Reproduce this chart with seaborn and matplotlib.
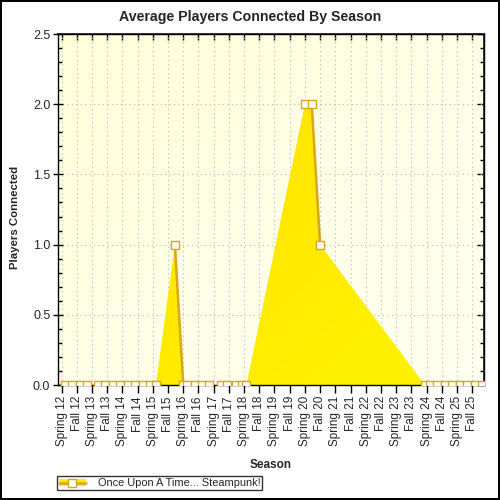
import numpy as np
import pandas as pd
import matplotlib
matplotlib.use("Agg")
import matplotlib.pyplot as plt
import seaborn as sns
from matplotlib.lines import Line2D
from matplotlib.patches import Patch
from matplotlib.colors import LinearSegmentedColormap
from matplotlib.ticker import MultipleLocator, FormatStrFormatter

# ---- data -------------------------------------------------------------
seasons = ["Spring 12", "Fall 12", "Spring 13", "Fall 13", "Spring 14", "Fall 14",
           "Spring 15", "Fall 15", "Spring 16", "Fall 16", "Spring 17", "Fall 17",
           "Spring 18", "Fall 18", "Spring 19", "Fall 19", "Spring 20", "Fall 20",
           "Spring 21", "Fall 21", "Spring 22", "Fall 22", "Spring 23", "Fall 23",
           "Spring 24", "Fall 24", "Spring 25", "Fall 25"]

# position of each observation on the season axis (Spring 12 = 0, Fall 12 = 1, ...)
point_pos = [0.22, 0.66, 1.20, 1.64, 2.41, 2.85, 3.40, 3.84, 4.39, 4.83, 5.38, 5.82, 6.20,
             7.45, 8.00, 8.26, 8.77, 9.25, 9.69, 10.46, 10.89, 11.45, 11.88, 12.15,
             16.00, 16.45, 17.00, 23.90,
             24.22, 24.66, 25.22, 25.66, 26.22, 26.66, 27.22, 27.66]
players = [0, 0, 0, 0, 0, 0, 0, 0, 0, 0, 0, 0, 0,
           1.0, 0, 0, 0, 0, 0, 0, 0, 0, 0, 0,
           2.0, 2.0, 1.0, 0,
           0, 0, 0, 0, 0, 0, 0, 0]
series_name = "Once Upon A Time... Steampunk!"
title = "Average Players Connected By Season"

# ---- style ------------------------------------------------------------
sns.set_theme(style="white")
plt.rcParams["font.family"] = ["Liberation Sans", "DejaVu Sans"]

YELLOW = "#FFEB00"
GOLD = "#DAA520"

df = pd.DataFrame({"pos": point_pos, "players": players})
df["seg"] = (df["pos"].diff() > 0.7).cumsum()

fig = plt.figure(figsize=(5, 5), dpi=100)
ax = fig.add_axes([0.116, 0.23, 0.852, 0.702])
ax.set_facecolor("#FFFFE8")

# diagonal gradients (plot background and area fill)
gx, gy = np.meshgrid(np.linspace(0, 1, 200), np.linspace(0, 1, 200))
grad = (gx + gy) / 2.0
bg_cmap = LinearSegmentedColormap.from_list("bg", ["#FFFFDA", "#FFFFF2"])
ax.imshow(grad, cmap=bg_cmap, extent=[0, 1, 0, 1], transform=ax.transAxes,
          aspect="auto", zorder=0, origin="upper", interpolation="bilinear")

poly = ax.fill_between(df["pos"], df["players"], 0, color="none", lw=0, zorder=1)
fill_cmap = LinearSegmentedColormap.from_list("fill", ["#FFDD00", "#FFF400"])
img = ax.imshow(grad, cmap=fill_cmap, extent=[0, 1, 0, 1], transform=ax.transAxes,
                aspect="auto", zorder=1, origin="upper", interpolation="bilinear")
path = poly.get_paths()[0]
img.set_clip_path(path, transform=ax.transData)

sns.lineplot(data=df, x="pos", y="players", units="seg", estimator=None,
             color=GOLD, lw=1.8, marker="s", markersize=5.5,
             markerfacecolor="white", markeredgecolor=GOLD, markeredgewidth=1,
             ax=ax, legend=False, zorder=3)

ax.set_xlim(-0.24, 27.78)
ax.set_ylim(0, 2.5)
ax.set_xticks(range(len(seasons)))
ax.set_xticklabels(seasons, rotation=90, fontsize=8.5)
ax.yaxis.set_major_locator(MultipleLocator(0.5))
ax.yaxis.set_minor_locator(MultipleLocator(0.1))
ax.yaxis.set_major_formatter(FormatStrFormatter("%.1f"))
for lab in ax.get_yticklabels():
    lab.set_fontsize(9)
ax.set_xlabel("")
ax.set_ylabel("")

ax.tick_params(axis="x", which="major", direction="out", length=6, width=1,
               color="black", pad=2, bottom=True)
ax.tick_params(axis="y", which="major", direction="inout", length=7, width=1,
               color="black", pad=2, left=True)
ax.tick_params(axis="y", which="minor", direction="in", length=3, width=1,
               color="black", left=True)

sec_x = ax.secondary_xaxis("top")
sec_x.set_xticks(range(len(seasons)))
sec_x.tick_params(direction="in", length=4, width=1, color="black", labeltop=False)
sec_y = ax.secondary_yaxis("right")
sec_y.yaxis.set_major_locator(MultipleLocator(0.5))
sec_y.yaxis.set_minor_locator(MultipleLocator(0.1))
sec_y.tick_params(which="major", direction="in", length=5, width=1, color="black", labelright=False)
sec_y.tick_params(which="minor", direction="in", length=3, width=1, color="black")
for s in list(ax.spines.values()):
    s.set_color("black")
    s.set_linewidth(1)

ax.grid(True, which="major", linestyle=(0, (1, 3)), color="#B8B8B8", lw=0.8)
ax.set_axisbelow(True)

fig.text(0.5, 1 - 17 / 500, title, ha="center", va="center", fontsize=10.2, fontweight="bold")
fig.text(15 / 500, 1 - 217 / 500, "Players Connected", rotation=90, ha="center",
         va="center", fontsize=8.2, fontweight="bold")
fig.text(271 / 500, 1 - 465 / 500, "Season", ha="center", va="center",
         fontsize=8.5, fontweight="bold")

handle = (Patch(facecolor=YELLOW, edgecolor="none"),
          Line2D([], [], color=GOLD, lw=1.8, marker="s", markersize=5.5,
                 markerfacecolor="white", markeredgecolor=GOLD))
leg = fig.legend([handle], [series_name], loc="upper left",
                 bbox_to_anchor=(57 / 500, 1 - 476 / 500), fontsize=7.9,
                 frameon=True, fancybox=False, borderpad=0.2, handlelength=2.4,
                 handleheight=0.6, handletextpad=1.1, borderaxespad=0)
leg.get_frame().set_edgecolor("black")
leg.get_frame().set_linewidth(1)
leg.get_frame().set_facecolor("white")

fig.patch.set_facecolor("white")
fig.patch.set_edgecolor("black")
fig.patch.set_linewidth(1.5)
fig.savefig("out.png", dpi=100, facecolor="white", edgecolor="black")
